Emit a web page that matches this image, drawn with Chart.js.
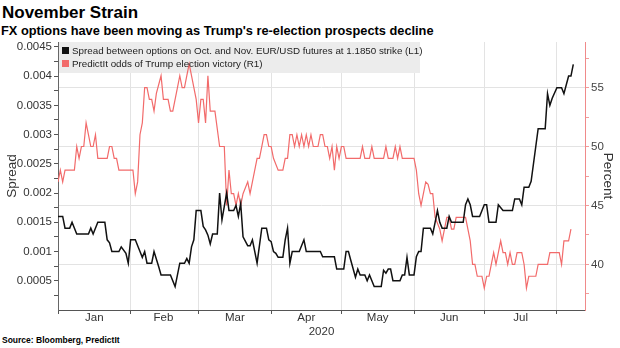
<!DOCTYPE html>
<html><head><meta charset="utf-8">
<script src="https://cdn.jsdelivr.net/npm/chart.js@4/dist/chart.umd.min.js"></script>
<style>
html,body{margin:0;padding:0;background:#fff;}
#wrap{position:relative;width:620px;height:348px;overflow:hidden;font-family:"Liberation Sans",Arial,sans-serif;color:#000;background:#fff;}
#c{position:absolute;left:0;top:0;z-index:2;}
.t{position:absolute;white-space:nowrap;font-weight:bold;line-height:1;z-index:1;}
#title{left:2px;top:4px;font-size:17px;}
#sub{left:1px;top:25px;font-size:12.8px;}
#src{left:2px;top:336px;font-size:8.5px;}
#legend{position:absolute;left:59px;top:42px;width:361px;height:31px;z-index:3;
  font-size:9.8px;color:#222;line-height:13px;padding-top:2px;box-sizing:border-box;}
#legend div{white-space:nowrap;padding-left:3px;}
#legend span.sq{display:inline-block;width:7px;height:7px;margin-right:3px;vertical-align:0px;}
</style></head>
<body>
<div id="wrap">
<div class="t" id="title">November Strain</div>
<div class="t" id="sub">FX options have been moving as Trump's re-election prospects decline</div>
<div class="t" id="src">Source: Bloomberg, PredictIt</div>
<canvas id="c" width="620" height="348"></canvas>
<div id="legend"></div>
</div>
<script>
// x values are days since 1 Jan 2020
const monthStarts = [0, 31, 60, 91, 121, 152, 182, 213];
const monthMids = [15.5, 45, 75.5, 106, 136.5, 167, 197.5];
const monthLabels = ['Jan', 'Feb', 'Mar', 'Apr', 'May', 'Jun', 'Jul'];
const leftTickValues = [0.00025,0.0005,0.00075,0.001,0.00125,0.0015,0.00175,0.002,0.00225,0.0025,0.00275,0.003,0.00325,0.0035,0.00375,0.004,0.00425,0.0045];
const leftTickLabels = ['','0.0005','','0.001','','0.0015','','0.002','','0.0025','','0.003','','0.0035','','0.004','','0.0045'];
const rightTickValues = [37.5,40,42.5,45,47.5,50,52.5,55,57.5];
const rightTickLabels = ['','40','','45','','50','','55',''];

const seriesNames = ['Spread between options on Oct. and Nov. EUR/USD futures at 1.1850 strike (L1)',
  'PredictIt odds of Trump election victory (R1)'];

const spreadDays = [0,2,3,5,6,8,13,14,15,17,20,21,22,23,26,27,29,30,31,33,35,36,37,38,40,41,43,44,
  48,50,52,54,55,56,57,58,59,61,62,63,64,65,66,68,69,70,71,72,73,75,76,77,78,79,81,82,83,85,87,89,
  90,91,92,93,94,96,97,98,99,100,103,105,106,112,113,118,119,122,123,124,125,127,128,129,131,132,133,
  135,138,139,140,141,142,143,146,147,148,149,150,152,153,154,155,156,159,160,161,162,163,164,166,167,168,173,174,175,176,177,180,
  182,183,184,187,188,190,194,195,197,198,199,201,202,204,205,208,209,210,211,213,215,216,218,219,220];
const spreadValues = [0.0016,0.0016,0.0014,0.0014,0.0015,0.0013,0.0013,0.0014,0.0013,0.0015,0.0015,0.0012,0.00115,0.001,0.001,0.00108,0.00097,0.0008,0.0012,0.0012,0.001,0.0009,0.001,0.0008,0.0008,0.001,0.00074,0.0006,
  0.0006,0.0004,0.0008,0.0008,0.00088,0.0008,0.00108,0.0012,0.0017,0.0017,0.00143,0.00137,0.00128,0.00113,0.0013,0.0013,0.002,0.00154,0.00177,0.002,0.0017,0.0017,0.00179,0.0016,0.00182,0.00125,0.0011,0.0011,0.0012,0.0008,0.0014,0.0014,
  0.0012,0.00117,0.001,0.00097,0.0009,0.0009,0.0012,0.0014,0.0008,0.001,0.001,0.0012,0.001,0.001,0.00091,0.00091,0.0007,0.0007,0.001,0.001,0.00085,0.00056,0.0007,0.0006,0.0006,0.0005,0.0006,
  0.0004,0.0004,0.00068,0.00063,0.0007,0.0007,0.0005,0.0005,0.0006,0.0006,0.0009,0.0006,0.0006,0.00091,0.001,0.001,0.0014,0.0014,0.0013,0.0015,0.0017,0.0015,0.0014,0.0014,0.0016,0.0015,0.0015,0.0018,0.0019,0.0018,0.0016,0.0016,
  0.0018,0.0018,0.0015,0.0015,0.0018,0.0017,0.0017,0.0019,0.0019,0.0018,0.0021,0.0021,0.0022,0.0028,0.0031,0.0031,0.0037,0.0035,0.00362,0.0038,0.0038,0.0037,0.004,0.004,0.0042];

const oddsDays = [0,1,2,3,7,8,9,10,11,12,13,14,15,16,17,21,22,23,24,25,26,32,33,34,35,36,37,38,39,40,41,42,44,
  45,47,48,49,51,52,53,54,55,56,57,59,60,61,62,63,64,65,67,69,71,72,73,74,75,76,77,78,79,81,82,83,84,85,86,87,88,89,
  90,91,92,94,96,97,98,99,100,101,102,103,104,105,106,107,108,109,111,112,113,114,115,116,117,118,119,120,121,122,123,129,130,131,133,134,
  135,139,140,141,143,144,145,146,147,152,153,154,155,156,157,158,159,160,161,163,164,165,166,167,168,169,170,174,175,176,177,178,179,
  181,182,183,184,185,186,187,188,189,190,191,192,193,194,195,196,198,199,200,201,204,205,209,210,214,215,216,218,219];
const oddsValues = [47,48,47,48,48,50,49,50,50,52,51,50,50,51,49,49,50,50,49,49,48,48,46,47,51,52,55,55,54,54,53,54.5,56,
  54,54,53,53,55,56,55,55,56,57,56,54,52,54,54,52,56,53,53,50,50,45,48,46,46,45,46,45,46,47,46,47,48,49,49,50,51,51,
  50,50,49,48,48,49,49,51,51,50,51,50,51,50,51,50,51,50,50,51,51,50,50,49,50,48,50,49,50,50,49,49,50,49,49,50,
  49,49,50,49,49,50,49,50,49,49,48,46,45,46,47,46.8,46,46,44,43,42,43,44,44,43,43,44,44,43,42,40,40,39,
  39,38,39,39,40,41,40,41,42,41,41,40,41,40,40,41,41,40,38,39,39,40,40,41,41,40,42,42,43];

const BLACK = '#111111';
const RED = '#f26b6b';

// grey legend panel, painted over the grid but under the lines
const legendPanel = {
  id: 'legendPanel',
  beforeDatasetsDraw(chart) {
    const el = document.getElementById('legend');
    const ctx = chart.ctx;
    ctx.save();
    ctx.fillStyle = '#ececec';
    ctx.fillRect(el.offsetLeft, el.offsetTop, el.offsetWidth, el.offsetHeight);
    ctx.restore();
  }
};

Chart.defaults.font.family = '"Liberation Sans", Arial, sans-serif';
Chart.defaults.color = '#333';

const chart = new Chart(document.getElementById('c'), {
  type: 'line',
  data: {
    datasets: [
      { label: seriesNames[0],
        data: spreadDays.map((d, i) => ({ x: d, y: spreadValues[i] })),
        borderColor: BLACK, backgroundColor: BLACK, borderWidth: 1.5, pointRadius: 0, tension: 0, yAxisID: 'y' },
      { label: seriesNames[1],
        data: oddsDays.map((d, i) => ({ x: d, y: oddsValues[i] })),
        borderColor: RED, backgroundColor: RED, borderWidth: 1.2, pointRadius: 0, tension: 0, yAxisID: 'y1' }
    ]
  },
  options: {
    responsive: false, animation: false, devicePixelRatio: 1,
    layout: { padding: { top: 42, left: 0, right: 0, bottom: 0 } },
    plugins: { tooltip: { enabled: false }, legend: { display: false } },
    scales: {
      x: { type: 'linear', min: 0, max: 225,
        afterBuildTicks: s => { s.ticks = monthStarts.concat(monthMids).sort((a, b) => a - b).map(v => ({ value: v })); },
        ticks: { autoSkip: false, maxRotation: 0, padding: -3, color: '#333', font: { size: 11.5 },
          callback: v => { const i = monthMids.indexOf(v); return i >= 0 ? monthLabels[i] : ''; } },
        grid: { color: c => (c.tick && monthStarts.includes(c.tick.value)) ? '#e3e3e3' : 'rgba(0,0,0,0)',
          tickColor: c => (c.tick && monthStarts.includes(c.tick.value)) ? '#555' : 'rgba(0,0,0,0)', tickLength: 4 },
        border: { color: '#555' },
        title: { display: true, text: '2020', padding: { top: 0, bottom: 9 }, color: '#333', font: { size: 11.5 } },
        afterFit: s => { s.height = 38; }
      },
      y: { position: 'left', min: 0, max: 0.004583,
        afterBuildTicks: s => { s.ticks = leftTickValues.map(v => ({ value: v })); },
        ticks: { autoSkip: false, padding: 2, color: '#333', font: { size: 11.5 },
          callback: (v, i) => leftTickLabels[i] },
        grid: { drawOnChartArea: false, tickLength: 4, tickColor: '#555' },
        border: { color: '#666' },
        title: { display: true, text: 'Spread', color: '#333', font: { size: 13.5 }, padding: { top: 4, bottom: 0 } },
        afterFit: s => { s.width = 58; }
      },
      y1: { position: 'right', min: 36.14, max: 58.86,
        afterBuildTicks: s => { s.ticks = rightTickValues.map(v => ({ value: v })); },
        ticks: { autoSkip: false, padding: 2, color: '#444', font: { size: 11.5 },
          callback: (v, i) => rightTickLabels[i] },
        grid: { color: c => (c.tick && rightTickLabels[c.index]) ? '#e3e3e3' : 'rgba(0,0,0,0)', tickLength: 4, tickColor: '#f29c9c' },
        border: { color: '#f08a8a' },
        title: { display: true, text: 'Percent', color: '#333', font: { size: 13.5 }, padding: { top: 4, bottom: 0 } },
        afterFit: s => { s.width = 35; }
      }
    }
  },
  plugins: [legendPanel]
});

// legend built from the chart's own datasets
const lg = document.getElementById('legend');
chart.data.datasets.forEach(ds => {
  const row = document.createElement('div');
  const sq = document.createElement('span'); sq.className = 'sq'; sq.style.background = ds.borderColor;
  row.appendChild(sq); row.appendChild(document.createTextNode(ds.label));
  lg.appendChild(row);
});
</script>
</body></html>
